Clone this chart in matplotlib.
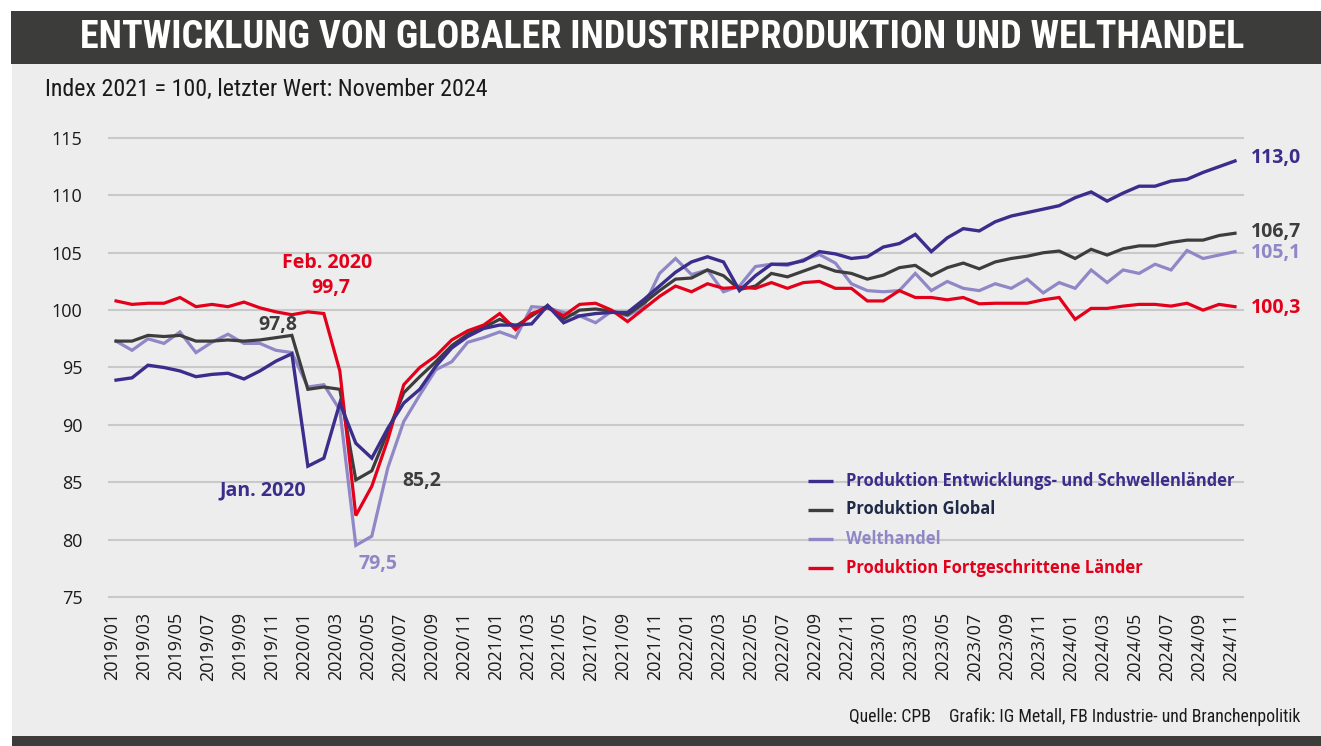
import matplotlib
matplotlib.use("Agg")
import matplotlib.pyplot as plt
from matplotlib import font_manager as fm
from matplotlib.patches import Rectangle
from matplotlib.lines import Line2D
from matplotlib.transforms import ScaledTranslation

# ---------------- data ----------------
months = [f"{y}/{m:02d}" for y in range(2019, 2025) for m in range(1, 13)][:71]

entwicklung = [93.9, 94.1, 95.2, 95.0, 94.7, 94.2, 94.4, 94.5, 94.0, 94.7, 95.55, 96.2,
               86.4, 87.1, 91.9, 88.4, 87.1, 89.7, 91.9, 93.1, 95.1,
               96.7, 97.7, 98.4, 98.7, 98.7, 98.8, 100.4, 98.9, 99.5, 99.7, 99.8, 99.8,
               100.9, 102.1, 103.3, 104.2, 104.65, 104.2, 101.7, 103.0, 104.0,
               104.0, 104.3, 105.1, 104.9, 104.5, 104.65, 105.5, 105.8, 106.6, 105.1,
               106.3, 107.1, 106.9, 107.7, 108.2, 108.5, 108.8, 109.1, 109.8, 110.3,
               109.5, 110.2, 110.8, 110.8, 111.25, 111.4, 112.0, 112.5, 113.0]

global_prod = [97.3, 97.3, 97.8, 97.7, 97.8, 97.3, 97.3, 97.4, 97.3, 97.4, 97.6, 97.8,
               93.1, 93.3, 93.1, 85.2, 86.0, 89.4, 92.8, 94.2, 95.5,
               96.9, 97.9, 98.5, 99.2, 98.6, 99.5, 100.4, 99.2, 100.0, 100.1, 99.9, 99.6,
               100.6, 101.7, 102.7, 102.8, 103.5, 103.0, 101.8, 102.1, 103.2,
               102.9, 103.4, 103.9, 103.4, 103.2, 102.7, 103.05, 103.7, 103.9, 103.0,
               103.7, 104.1, 103.6, 104.2, 104.5, 104.7, 105.0, 105.15, 104.5, 105.3,
               104.8, 105.35, 105.6, 105.6, 105.9, 106.1, 106.1, 106.5, 106.7]

welthandel = [97.3, 96.5, 97.5, 97.1, 98.1, 96.3, 97.2, 97.9, 97.1, 97.1, 96.5, 96.3,
              93.3, 93.5, 91.3, 79.5, 80.3, 86.25, 90.3, 92.6, 94.8,
              95.5, 97.2, 97.6, 98.1, 97.6, 100.3, 100.2, 99.8, 99.5, 98.9, 99.9, 99.5,
              100.3, 103.2, 104.5, 103.1, 103.5, 101.6, 102.1, 103.8, 104.0,
              103.9, 104.4, 104.85, 104.1, 102.3, 101.7, 101.6, 101.7, 103.2, 101.7,
              102.5, 101.9, 101.7, 102.3, 101.9, 102.7, 101.5, 102.4, 101.9, 103.5,
              102.4, 103.5, 103.2, 104.0, 103.5, 105.2, 104.5, 104.8, 105.1]

fortgeschritten = [100.8, 100.5, 100.6, 100.6, 101.1, 100.3, 100.5, 100.3, 100.7, 100.2, 99.85, 99.6,
                   99.85, 99.7, 94.7, 82.1, 84.65, 88.7, 93.5, 95.0, 96.0,
                   97.4, 98.2, 98.7, 99.7, 98.3, 99.7, 100.2, 99.5, 100.5, 100.6, 100.0, 99.0,
                   100.1, 101.2, 102.1, 101.6, 102.3, 101.9, 102.0, 101.9, 102.4,
                   101.9, 102.4, 102.5, 101.9, 101.9, 100.8, 100.8, 101.7, 101.1, 101.1,
                   100.9, 101.1, 100.55, 100.6, 100.6, 100.6, 100.9, 101.1, 99.2, 100.15,
                   100.15, 100.35, 100.5, 100.5, 100.35, 100.6, 100.0, 100.5, 100.3]

series_names = ["Produktion Entwicklungs- und Schwellenländer", "Produktion Global",
                "Welthandel", "Produktion Fortgeschrittene Länder"]
yticks = [75, 80, 85, 90, 95, 100, 105, 110, 115]

# ---------------- style ----------------
C_BLUE = "#3a2d8b"
C_DARK = "#3d3d3d"
C_LAV = "#8f87c6"
C_RED = "#e3001b"
C_NAVY = "#1f2a48"
C_BANNER = "#3c3c3b"
C_PANEL = "#ededed"

names = {f.name for f in fm.fontManager.ttflist}
def pick(cands, default):
    for c in cands:
        if c in names:
            return c
    return default

BODY = pick(["Open Sans", "Noto Sans", "DejaVu Sans"], "DejaVu Sans")
COND = pick(["Roboto Condensed", "Open Sans Condensed", "Noto Sans Condensed",
             "Liberation Sans Narrow", "DejaVu Sans Condensed"], None)
TITLE_FONT = COND if COND else pick(["Roboto", "Open Sans"], "DejaVu Sans")
SUB_FONT = COND if COND else BODY
plt.rcParams["font.family"] = [BODY, "DejaVu Sans"]

W, H = 1321, 746
fig = plt.figure(figsize=(W / 100, H / 100), dpi=100, facecolor="white")

def fx(x):
    return x / W
def fy(y):
    return 1 - y / H

# background panels
fig.add_artist(Rectangle((fx(12), fy(736)), fx(W) - fx(12), fy(64) - fy(736),
                         transform=fig.transFigure, facecolor=C_PANEL, edgecolor="none", zorder=0))
fig.add_artist(Rectangle((fx(11), fy(64)), 1 - fx(11), fy(11) - fy(64),
                         transform=fig.transFigure, facecolor=C_BANNER, edgecolor="none", zorder=0))
fig.add_artist(Rectangle((fx(12), 0), 1 - fx(12), fy(736),
                         transform=fig.transFigure, facecolor=C_BANNER, edgecolor="none", zorder=0))

# axes
ax = fig.add_axes([fx(109), fy(597), fx(1243) - fx(109), fy(138) - fy(597)])
ax.set_facecolor("none")
x = list(range(len(months)))
ax.plot(x, welthandel, color=C_LAV, lw=2.3, solid_joinstyle="miter", zorder=3)
ax.plot(x, global_prod, color=C_DARK, lw=2.3, solid_joinstyle="miter", zorder=4)
ax.plot(x, fortgeschritten, color=C_RED, lw=2.3, solid_joinstyle="miter", zorder=5)
ax.plot(x, entwicklung, color=C_BLUE, lw=2.4, solid_joinstyle="miter", zorder=6)

ax.set_xlim(-0.44, 70.5)
ax.set_ylim(75, 115)
ax.set_yticks(yticks)
ax.set_yticklabels([str(v) for v in yticks])
ax.set_xticks(x[::2])
ax.set_xticklabels(months[::2], rotation=90)
for s in ax.spines.values():
    s.set_visible(False)
ax.tick_params(axis="both", length=0, labelsize=13, labelcolor="#1a1a1a")
ax.tick_params(axis="y", pad=19)
ax.tick_params(axis="x", pad=11)
offset = ScaledTranslation(-4 / 100, 0, fig.dpi_scale_trans)
for lbl in ax.get_xticklabels():
    lbl.set_transform(lbl.get_transform() + offset)
ax.grid(axis="y", color="#c9c9c9", lw=1.5)
ax.set_axisbelow(True)
for gl in ax.get_ygridlines():
    gl.set_clip_on(False)

# ---------------- texts ----------------
def fit(t, target):
    fig.canvas.draw()
    r = fig.canvas.get_renderer()
    w = t.get_window_extent(r).width
    t.set_fontsize(t.get_fontsize() * target / w)

title = fig.text(fx(662), fy(38), "ENTWICKLUNG VON GLOBALER INDUSTRIEPRODUKTION UND WELTHANDEL",
                 color="white", fontsize=28, fontweight="bold", family=TITLE_FONT,
                 ha="center", va="center", fontstretch="condensed")
fit(title, 1168)
if title.get_fontsize() > 29:
    title.set_fontsize(29)

sub = fig.text(fx(45), fy(89), "Index 2021 = 100, letzter Wert: November 2024",
               color="#1a1a1a", fontsize=15, ha="left", va="center", family=SUB_FONT)
fit(sub, 442)

def ann(xp, yp, s, c, ha="center"):
    return fig.text(fx(xp), fy(yp), s, color=c, fontsize=14, fontweight="bold", ha=ha, va="center")

ann(327, 263, "Feb. 2020", C_RED)
ann(331, 288, "99,7", C_RED)
ann(278, 325, "97,8", C_DARK)
ann(263, 490, "Jan. 2020", C_BLUE)
ann(422, 481, "85,2", C_DARK)
ann(378, 564, "79,5", C_LAV)
ann(1251, 158, "113,0", C_BLUE, "left")
ann(1251, 232, "106,7", C_DARK, "left")
ann(1251, 253, "105,1", C_LAV, "left")
ann(1251, 308, "100,3", C_RED, "left")

# legend (manual)
leg_rows = [480.5, 509.5, 538.5, 568.0]
leg_line_c = [C_BLUE, C_DARK, C_LAV, C_RED]
leg_text_c = [C_BLUE, C_NAVY, C_LAV, C_RED]
leg_texts = []
for yy, lc, tc, nm in zip(leg_rows, leg_line_c, leg_text_c, series_names):
    fig.add_artist(Line2D([fx(808), fx(833)], [fy(yy), fy(yy)], transform=fig.transFigure,
                          color=lc, lw=2.4, solid_capstyle="butt"))
    leg_texts.append(fig.text(fx(846), fy(yy), nm, color=tc, fontsize=13, fontweight="bold",
                              ha="left", va="center"))
fit(leg_texts[0], 387)
for t in leg_texts[1:]:
    t.set_fontsize(leg_texts[0].get_fontsize())

# footer
f1 = fig.text(fx(849), fy(717), "Quelle: CPB", color="#1a1a1a", fontsize=12, ha="left", va="center",
              family=SUB_FONT)
f2 = fig.text(fx(1300), fy(717), "Grafik: IG Metall, FB Industrie- und Branchenpolitik",
              color="#1a1a1a", fontsize=12, ha="right", va="center", family=SUB_FONT)
fit(f2, 351)
f1.set_fontsize(f2.get_fontsize())

fig.savefig("out.png", dpi=100, facecolor="white")
